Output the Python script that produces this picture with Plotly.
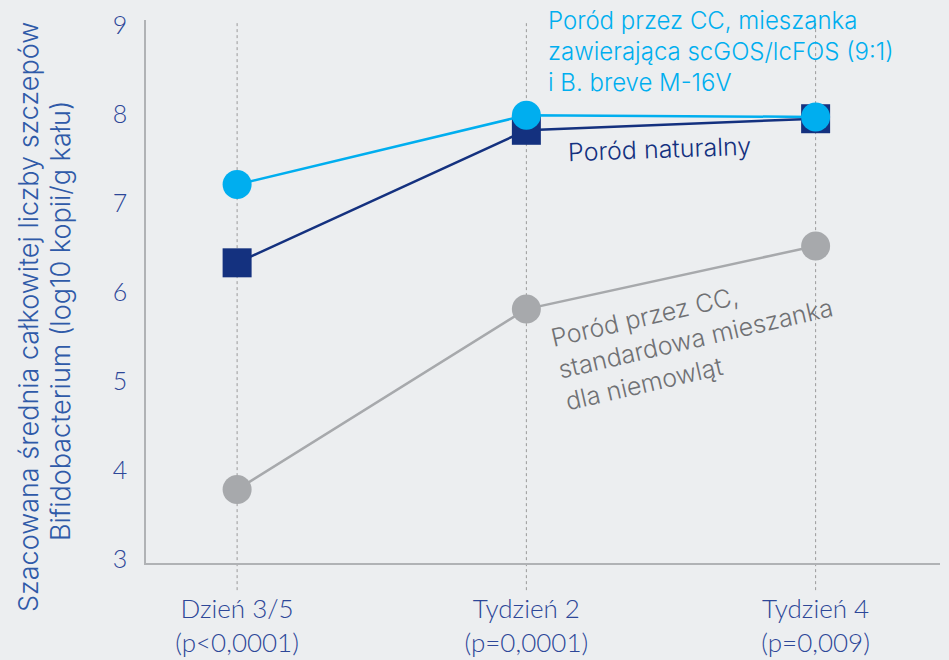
import plotly.graph_objects as go

categories = ["Dzień 3/5<br>(p<0,0001)", "Tydzień 2<br>(p=0,0001)", "Tydzień 4<br>(p=0,009)"]
x_pos = [0, 1, 2]
synbiotic = [7.21, 7.99, 7.97]
natural = [6.33, 7.82, 7.95]
standard = [3.78, 5.81, 6.52]
y_ticks = [3, 4, 5, 6, 7, 8, 9]
y_title_lines = ["Szacowana średnia całkowitej liczby szczepów", "Bifidobacterium (log10 kopii/g kału)"]

LIGHT = "#00aeef"
NAVY = "#14317f"
GRAY = "#a7a9ac"
AXTXT = "#2d4798"

L, T, W, H = 146, 20, 794, 543
def px(x):
    return (x - L) / W
def py(y):
    return (T + H - y) / H

fig = go.Figure()
fig.add_trace(go.Scatter(x=x_pos, y=standard, mode="lines+markers",
                         line=dict(color=GRAY, width=2.5),
                         marker=dict(symbol="circle", size=29, color=GRAY)))
fig.add_trace(go.Scatter(x=x_pos, y=natural, mode="lines+markers",
                         line=dict(color=NAVY, width=2.5),
                         marker=dict(symbol="square", size=29, color=NAVY)))
fig.add_trace(go.Scatter(x=x_pos, y=synbiotic, mode="lines+markers",
                         line=dict(color=LIGHT, width=2.5),
                         marker=dict(symbol="circle", size=29, color=LIGHT)))

for xv in x_pos:
    fig.add_shape(type="line", xref="x", yref="paper", x0=xv, x1=xv, y0=-0.05, y1=0.995,
                  line=dict(color="#9a9a9a", width=1, dash="dot"), layer="below")

fig.add_annotation(xref="paper", yref="paper", x=px(546), y=py(4),
                   xanchor="left", yanchor="top", align="left", showarrow=False,
                   text="Poród przez CC, mieszanka<br>zawierająca scGOS/lcFOS (9:1)<br>i B. breve M-16V",
                   font=dict(family="Inter", size=24, color=LIGHT, weight=300))
fig.add_annotation(xref="paper", yref="paper", x=px(659), y=py(149),
                   xanchor="center", yanchor="middle",
                   showarrow=False, text="Poród naturalny", textangle=-2,
                   font=dict(family="Inter", size=25, color=NAVY, weight=300))
fig.add_annotation(xref="paper", yref="paper", x=px(695), y=py(338),
                   xanchor="center", yanchor="middle",
                   showarrow=False, align="left", textangle=-13,
                   text="Poród przez CC,<br>standardowa mieszanka<br>dla niemowląt",
                   font=dict(family="Inter", size=25, color="#707174", weight=300))

for cx, cy, line_text in [(28, 317, y_title_lines[0]), (60, 321, y_title_lines[1])]:
    fig.add_annotation(xref="paper", yref="paper", x=px(cx), y=py(cy),
                       xanchor="center", yanchor="middle", showarrow=False,
                       text=line_text, textangle=-90,
                       font=dict(family="Inter", size=27, color="#2f5aa8", weight=300))

fig.update_layout(
    width=949, height=660,
    margin=dict(l=L, r=949 - L - W, t=T, b=660 - T - H),
    paper_bgcolor="#eceef0", plot_bgcolor="#eceef0",
    showlegend=False,
    xaxis=dict(range=[-0.315, 2.43], tickmode="array", tickvals=x_pos, ticktext=categories,
               showgrid=False, zeroline=False, showline=True, linecolor="#b0b2b5", linewidth=1.5,
               ticks="", tickfont=dict(family="Lato", size=26, color=AXTXT, weight=300),
               ticklabelstandoff=22, automargin=False),
    yaxis=dict(range=[2.955, 9.06], tickmode="array", tickvals=y_ticks,
               showgrid=False, zeroline=False, showline=True, linecolor="#b0b2b5", linewidth=1.5,
               ticks="", tickfont=dict(family="Lato", size=25, color=AXTXT, weight=300), ticklabelstandoff=12,
               automargin=False),
)

fig.write_html("out.html", config={"displayModeBar": False},
               post_script="document.body.style.margin='0';document.body.style.padding='0';")
